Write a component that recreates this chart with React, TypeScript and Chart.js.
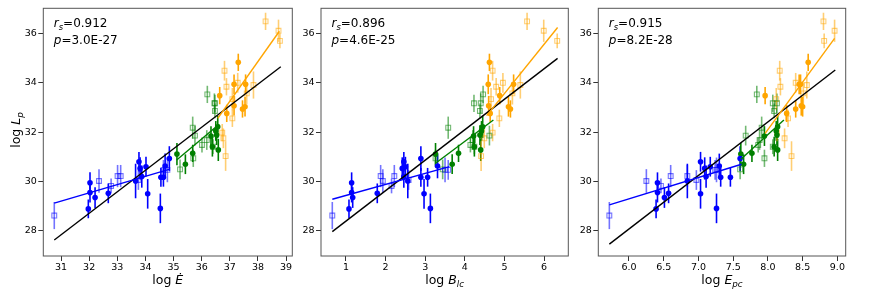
import React, { useEffect, useRef } from "react";
import { Chart, registerables } from "chart.js";
Chart.register(...registerables);

// ---------- shared y axis ----------
const Y_TICKS = [28, 30, 32, 34, 36];
const Y_MIN = 26.98;
const Y_MAX = 37.02;

// ---------- blue filled circles ----------
const BLUE_CIRC_Y = [28.89, 29.95, 29.55, 29.35, 29.52, 30.8, 30.53, 30.2, 30.6, 29.5, 28.91, 30.17, 30.17, 30.63, 30.93, 30.02];
const BLUE_CIRC_ERR = [0.38, 0.42, 0.4, 0.42, 0.4, 0.4, 0.45, 0.45, 0.4, 0.6, 0.6, 0.38, 0.38, 0.5, 0.5, 0.7];
const BLUE_CIRC_X_EDOT = [31.97, 32.03, 32.03, 32.21, 32.68, 33.77, 33.81, 33.87, 34.02, 34.08, 34.53, 34.55, 34.64, 34.7, 34.85, 33.65];
const BLUE_CIRC_X_BLC = [1.076, 1.143, 1.143, 1.17, 1.79, 2.46, 2.42, 2.46, 2.5, 2.97, 3.13, 2.89, 3.06, 3.31, 2.89, 2.56];
const BLUE_CIRC_X_EPC = [6.39, 6.41, 6.41, 6.51, 6.57, 7.03, 7.09, 7.11, 7.17, 7.03, 7.26, 7.32, 7.46, 7.3, 7.6, 6.84];

// ---------- blue open squares ----------
const BLUE_SQ_Y = [28.62, 30.02, 29.82, 30.22, 30.22, 30.06, 30.47, 30.47];
const BLUE_SQ_ERR = [0.55, 0.48, 0.3, 0.45, 0.45, 0.4, 0.4, 0.5];
const BLUE_SQ_X_EDOT = [30.76, 32.35, 32.78, 33.01, 33.12, 33.75, 34.64, 34.78];
const BLUE_SQ_X_BLC = [0.655, 1.93, 2.15, 1.875, 2.22, 2.58, 3.58, 3.5];
const BLUE_SQ_X_EPC = [5.717, 6.25, 6.46, 6.6, 6.84, 6.97, 7.24, 7.26];

// ---------- green filled circles ----------
const GREEN_CIRC_Y = [31.11, 30.7, 31.14, 31.84, 31.41, 31.88, 32.22, 31.28, 32.05];
const GREEN_CIRC_ERR = [0.45, 0.4, 0.35, 0.4, 0.4, 0.4, 0.45, 0.45, 0.4];
const GREEN_CIRC_X_EDOT = [35.12, 35.42, 35.68, 36.33, 36.38, 36.53, 36.57, 36.59, 36.5];
const GREEN_CIRC_X_BLC = [3.26, 3.68, 3.84, 4.22, 4.24, 4.38, 4.45, 4.4, 4.42];
const GREEN_CIRC_X_EPC = [7.61, 7.65, 7.77, 7.95, 8.09, 8.13, 8.14, 8.14, 8.12];

// ---------- green open squares ----------
const GREEN_SQ_Y = [30.49, 30.94, 32.18, 31.86, 31.48, 31.68, 33.53, 33.17, 32.86, 33.17, 31.41];
const GREEN_SQ_ERR = [0.4, 0.35, 0.45, 0.4, 0.3, 0.4, 0.35, 0.35, 0.3, 0.4, 0.3];
const GREEN_SQ_X_EDOT = [35.23, 35.7, 35.68, 35.76, 36.01, 36.18, 36.2, 36.47, 36.47, 36.45, 36.4];
const GREEN_SQ_X_BLC = [3.44, 3.26, 3.58, 4.62, 4.14, 4.2, 4.46, 4.23, 4.38, 4.4, 4.24];
const GREEN_SQ_X_EPC = [7.6, 7.95, 7.91, 7.68, 7.86, 7.88, 7.84, 8.07, 8.09, 8.13, 8.07];

// ---------- orange filled circles ----------
const ORANGE_CIRC_Y = [33.48, 32.76, 33.94, 33.07, 34.83, 32.94, 33.03, 33.94];
const ORANGE_CIRC_ERR = [0.35, 0.35, 0.4, 0.4, 0.35, 0.35, 0.4, 0.4];
const ORANGE_CIRC_X_EDOT = [36.64, 36.89, 37.15, 37.15, 37.3, 37.45, 37.54, 37.56];
const ORANGE_CIRC_X_BLC = [4.88, 4.64, 4.59, 4.6, 4.62, 5.15, 5.1, 5.23];
const ORANGE_CIRC_X_EPC = [7.96, 8.27, 8.45, 8.48, 8.58, 8.4, 8.5, 8.47];

// ---------- orange open squares ----------
const ORANGE_SQ_Y = [31.98, 31.75, 31.03, 34.49, 33.84, 32.56, 33.34, 34.0, 33.57, 33.91, 36.49, 36.11, 35.7];
const ORANGE_SQ_ERR = [0.35, 0.4, 0.6, 0.4, 0.35, 0.35, 0.45, 0.4, 0.45, 0.55, 0.35, 0.45, 0.3];
const ORANGE_SQ_X_EDOT = [36.73, 36.77, 36.85, 36.81, 36.88, 37.09, 37.09, 37.28, 37.6, 37.84, 38.27, 38.73, 38.78];
const ORANGE_SQ_X_BLC = [4.7, 4.49, 4.41, 4.7, 4.79, 4.87, 4.66, 4.96, 5.2, 5.4, 5.57, 5.99, 6.33];
const ORANGE_SQ_X_EPC = [8.13, 8.24, 8.34, 8.17, 8.18, 8.29, 8.12, 8.4, 8.51, 8.56, 8.8, 8.96, 8.81];

// ---------- fit lines (endpoints) ----------
const FIT_EDOT_BLUE = [[30.76, 29.12], [34.87, 30.5]];
const FIT_EDOT_GREEN = [[35.11, 30.87], [36.62, 32.32]];
const FIT_EDOT_ORANGE = [[36.57, 32.56], [38.76, 36.09]];
const FIT_EDOT_ALL = [[30.76, 27.63], [38.81, 34.65]];
const FIT_BLC_BLUE = [[0.655, 29.28], [3.61, 30.6]];
const FIT_BLC_GREEN = [[3.26, 30.74], [4.72, 32.49]];
const FIT_BLC_ORANGE = [[4.55, 32.67], [6.34, 36.24]];
const FIT_BLC_ALL = [[0.655, 27.97], [6.34, 34.99]];
const FIT_EPC_BLUE = [[5.717, 29.05], [7.62, 30.7]];
const FIT_EPC_GREEN = [[7.61, 30.9], [8.23, 32.49]];
const FIT_EPC_ORANGE = [[7.96, 31.95], [8.96, 35.8]];
const FIT_EPC_ALL = [[5.717, 27.46], [8.97, 34.52]];

// ---------- x ticks / stats ----------
const X_TICKS_EDOT = [31, 32, 33, 34, 35, 36, 37, 38, 39];
const X_TICKS_BLC = [1, 2, 3, 4, 5, 6];
const X_TICKS_EPC = [6.0, 6.5, 7.0, 7.5, 8.0, 8.5, 9.0];
const RS_VALUES = ["0.912", "0.896", "0.915"];
const P_VALUES = ["3.0E-27", "4.6E-25", "8.2E-28"];

const BLUE = "0,0,255";
const GREEN = "0,128,0";
const ORANGE = "255,165,0";
const FONT = '"DejaVu Sans", sans-serif';

type Part = { t: string; it?: boolean; sub?: boolean };

function drawRich(ctx: CanvasRenderingContext2D, parts: Part[], x: number, y: number, size: number, align: "left" | "center") {
  const fontFor = (p: Part) => `${p.it ? "italic " : ""}${p.sub ? size * 0.7 : size}px ${FONT}`;
  let w = 0;
  for (const p of parts) {
    ctx.font = fontFor(p);
    w += ctx.measureText(p.t).width;
  }
  let cx = align === "center" ? x - w / 2 : x;
  ctx.textAlign = "left";
  ctx.textBaseline = "alphabetic";
  ctx.fillStyle = "#000";
  for (const p of parts) {
    ctx.font = fontFor(p);
    ctx.fillText(p.t, cx, y + (p.sub ? size * 0.24 : 0));
    cx += ctx.measureText(p.t).width;
  }
}

type PanelCfg = {
  left: number;
  width: number;
  yAxisW: number;
  padRight: number;
  xMin: number;
  xMax: number;
  xTicks: number[];
  decimals: number;
  xTitle: Part[];
  yTitle: boolean;
  rs: string;
  p: string;
  xs: number[][];
  fits: number[][][];
};

const GROUP_Y = [BLUE_CIRC_Y, BLUE_SQ_Y, GREEN_CIRC_Y, GREEN_SQ_Y, ORANGE_CIRC_Y, ORANGE_SQ_Y];
const GROUP_ERR = [BLUE_CIRC_ERR, BLUE_SQ_ERR, GREEN_CIRC_ERR, GREEN_SQ_ERR, ORANGE_CIRC_ERR, ORANGE_SQ_ERR];
const GROUP_COLOR = [BLUE, BLUE, GREEN, GREEN, ORANGE, ORANGE];
const GROUP_SQUARE = [false, true, false, true, false, true];

const PANELS: PanelCfg[] = [
  {
    left: 0, width: 300, yAxisW: 43.3, padRight: 7.7,
    xMin: 30.37, xMax: 39.22, xTicks: X_TICKS_EDOT, decimals: 0,
    xTitle: [{ t: "log " }, { t: "\u0116", it: true }], yTitle: true,
    rs: RS_VALUES[0], p: P_VALUES[0],
    xs: [BLUE_CIRC_X_EDOT, BLUE_SQ_X_EDOT, GREEN_CIRC_X_EDOT, GREEN_SQ_X_EDOT, ORANGE_CIRC_X_EDOT, ORANGE_SQ_X_EDOT],
    fits: [FIT_EDOT_BLUE, FIT_EDOT_GREEN, FIT_EDOT_ORANGE, FIT_EDOT_ALL],
  },
  {
    left: 296, width: 280, yAxisW: 25, padRight: 7.7,
    xMin: 0.37, xMax: 6.61, xTicks: X_TICKS_BLC, decimals: 0,
    xTitle: [{ t: "log " }, { t: "B", it: true }, { t: "lc", it: true, sub: true }], yTitle: false,
    rs: RS_VALUES[1], p: P_VALUES[1],
    xs: [BLUE_CIRC_X_BLC, BLUE_SQ_X_BLC, GREEN_CIRC_X_BLC, GREEN_SQ_X_BLC, ORANGE_CIRC_X_BLC, ORANGE_SQ_X_BLC],
    fits: [FIT_BLC_BLUE, FIT_BLC_GREEN, FIT_BLC_ORANGE, FIT_BLC_ALL],
  },
  {
    left: 576, width: 296, yAxisW: 22.3, padRight: 26.3,
    xMin: 5.558, xMax: 9.12, xTicks: X_TICKS_EPC, decimals: 1,
    xTitle: [{ t: "log " }, { t: "E", it: true }, { t: "pc", it: true, sub: true }], yTitle: false,
    rs: RS_VALUES[2], p: P_VALUES[2],
    xs: [BLUE_CIRC_X_EPC, BLUE_SQ_X_EPC, GREEN_CIRC_X_EPC, GREEN_SQ_X_EPC, ORANGE_CIRC_X_EPC, ORANGE_SQ_X_EPC],
    fits: [FIT_EPC_BLUE, FIT_EPC_GREEN, FIT_EPC_ORANGE, FIT_EPC_ALL],
  },
];

function Panel({ cfg }: { cfg: PanelCfg }) {
  const ref = useRef<HTMLCanvasElement | null>(null);
  useEffect(() => {
    if (!ref.current) return;
    const datasets: any[] = [];
    const fitColors = [`rgb(${BLUE})`, `rgb(${GREEN})`, `rgb(${ORANGE})`, "#000"];
    cfg.fits.forEach((f, i) => {
      datasets.push({
        type: "line",
        data: f.map(([x, y]) => ({ x, y })),
        borderColor: fitColors[i],
        borderWidth: 1.4,
        pointRadius: 0,
        fill: false,
        order: 0,
      });
    });
    GROUP_Y.forEach((ys, g) => {
      const sq = GROUP_SQUARE[g];
      const alpha = sq ? 0.55 : 1;
      datasets.push({
        type: "scatter",
        data: ys.map((y, i) => ({ x: cfg.xs[g][i], y })),
        pointStyle: sq ? "rect" : "circle",
        pointRadius: sq ? 3.4 : 2.8,
        pointBorderWidth: sq ? 1.1 : 0,
        borderColor: `rgba(${GROUP_COLOR[g]},${alpha})`,
        backgroundColor: sq ? "rgba(0,0,0,0)" : `rgb(${GROUP_COLOR[g]})`,
        pointBackgroundColor: sq ? "rgba(0,0,0,0)" : `rgb(${GROUP_COLOR[g]})`,
        order: 1,
      });
    });

    const errPlugin = {
      id: "errbars",
      beforeDatasetsDraw(chart: any) {
        const ctx = chart.ctx as CanvasRenderingContext2D;
        const xs = chart.scales.x;
        const ysc = chart.scales.y;
        ctx.save();
        ctx.lineWidth = 1.6;
        GROUP_Y.forEach((yv, g) => {
          const alpha = GROUP_SQUARE[g] ? 0.55 : 1;
          ctx.strokeStyle = `rgba(${GROUP_COLOR[g]},${alpha})`;
          yv.forEach((y, i) => {
            const px = xs.getPixelForValue(cfg.xs[g][i]);
            const e = GROUP_ERR[g][i];
            ctx.beginPath();
            ctx.moveTo(px, ysc.getPixelForValue(y - e));
            ctx.lineTo(px, ysc.getPixelForValue(y + e));
            ctx.stroke();
          });
        });
        ctx.restore();
      },
    };

    const decoPlugin = {
      id: "deco",
      afterDraw(chart: any) {
        const ctx = chart.ctx as CanvasRenderingContext2D;
        const a = chart.chartArea;
        ctx.save();
        ctx.strokeStyle = "#555";
        ctx.lineWidth = 1;
        ctx.strokeRect(a.left, a.top, a.right - a.left, a.bottom - a.top);
        drawRich(ctx, [{ t: "r", it: true }, { t: "s", it: true, sub: true }, { t: "=" + cfg.rs }], a.left + 10.5, a.top + 18.5, 12, "left");
        drawRich(ctx, [{ t: "p", it: true }, { t: "=" + cfg.p }], a.left + 10.5, a.top + 35.5, 12, "left");
        drawRich(ctx, cfg.xTitle, (a.left + a.right) / 2, 283.5, 12.5, "center");
        if (cfg.yTitle) {
          ctx.translate(19.5, 130);
          ctx.rotate(-Math.PI / 2);
          drawRich(ctx, [{ t: "log " }, { t: "L", it: true }, { t: "p", it: true, sub: true }], 0, 0, 12.5, "center");
        }
        ctx.restore();
      },
    };

    const chart = new Chart(ref.current, {
      type: "scatter",
      data: { datasets },
      options: {
        animation: false,
        responsive: false,
        devicePixelRatio: 1,
        layout: { padding: { left: 0, right: cfg.padRight, top: 8.3, bottom: 0 } },
        plugins: { legend: { display: false }, tooltip: { enabled: false } },
        scales: {
          x: {
            type: "linear",
            min: cfg.xMin,
            max: cfg.xMax,
            afterBuildTicks: (s: any) => {
              s.ticks = cfg.xTicks.map((v) => ({ value: v }));
            },
            afterFit: (s: any) => {
              s.height = 35;
            },
            ticks: {
              autoSkip: false,
              maxRotation: 0,
              padding: 1,
              color: "#000",
              font: { family: FONT, size: 9.5 },
              callback: (v: any) => Number(v).toFixed(cfg.decimals),
            },
            grid: { drawOnChartArea: false, drawTicks: true, tickLength: 5, color: "#333" },
            border: { display: false },
          },
          y: {
            type: "linear",
            min: Y_MIN,
            max: Y_MAX,
            afterBuildTicks: (s: any) => {
              s.ticks = Y_TICKS.map((v) => ({ value: v }));
            },
            afterFit: (s: any) => {
              s.width = cfg.yAxisW;
            },
            ticks: {
              autoSkip: false,
              padding: 1.5,
              color: "#000",
              font: { family: FONT, size: 9.5 },
              callback: (v: any) => String(v),
            },
            grid: { drawOnChartArea: false, drawTicks: true, tickLength: 5, color: "#333" },
            border: { display: false },
          },
        },
      },
      plugins: [errPlugin, decoPlugin],
    } as any);
    return () => chart.destroy();
  }, [cfg]);
  return (
    <canvas
      ref={ref}
      width={cfg.width}
      height={291}
      style={{ position: "absolute", left: cfg.left, top: 0, width: cfg.width, height: 291, display: "block" }}
    />
  );
}

export default function App() {
  return (
    <div style={{ position: "absolute", left: 0, top: 0, width: 872, height: 291, background: "#fff", overflow: "hidden" }}>
      {PANELS.map((p, i) => (
        <Panel key={i} cfg={p} />
      ))}
    </div>
  );
}
